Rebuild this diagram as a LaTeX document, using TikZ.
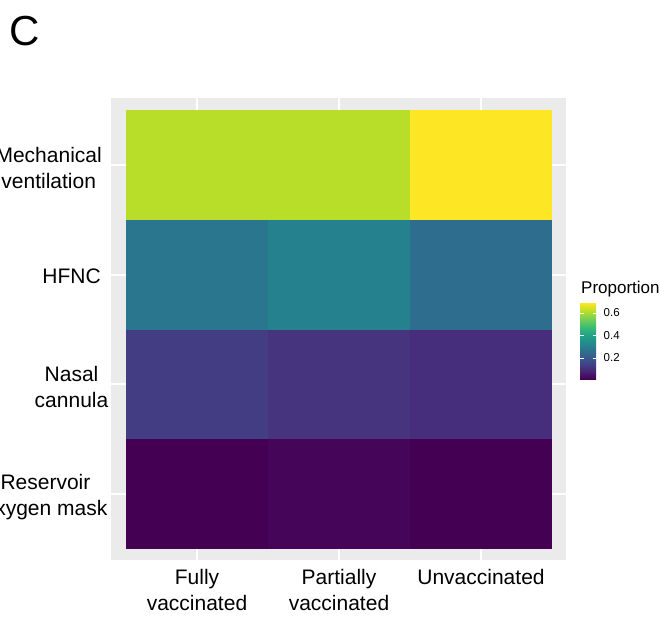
\documentclass[tikz,border=0pt]{standalone}
\usepackage{fontspec}
\setmainfont{Liberation Sans}

\definecolor{panelgrey}{HTML}{EBEBEB}
% tile colours
\definecolor{mvA}{HTML}{B8DE29}
\definecolor{mvC}{HTML}{FDE725}
\definecolor{hfA}{HTML}{2A768E}
\definecolor{hfB}{HTML}{26818E}
\definecolor{hfC}{HTML}{2E6D8E}
\definecolor{ncA}{HTML}{433D84}
\definecolor{ncB}{HTML}{46347F}
\definecolor{ncC}{HTML}{472E7C}
\definecolor{roA}{HTML}{440154}
\definecolor{roB}{HTML}{45065A}
% viridis stops for the colour bar
\definecolor{vir0}{HTML}{440154}
\definecolor{vir1}{HTML}{482475}
\definecolor{vir2}{HTML}{414487}
\definecolor{vir3}{HTML}{355F8D}
\definecolor{vir4}{HTML}{2A788E}
\definecolor{vir5}{HTML}{21918C}
\definecolor{vir6}{HTML}{22A884}
\definecolor{vir7}{HTML}{44BF70}
\definecolor{vir8}{HTML}{7AD151}
\definecolor{vir9}{HTML}{BDDF26}
\definecolor{vir10}{HTML}{FDE725}
\pgfdeclareverticalshading{viridisbar}{100bp}{color(0bp)=(vir0); color(25bp)=(vir0);
  color(30bp)=(vir1); color(35bp)=(vir2); color(40bp)=(vir3); color(45bp)=(vir4);
  color(50bp)=(vir5); color(55bp)=(vir6); color(60bp)=(vir7); color(65bp)=(vir8);
  color(70bp)=(vir9); color(75bp)=(vir10); color(100bp)=(vir10)}

\begin{document}
\begin{tikzpicture}[x=1pt, y=-1pt,
	axislabel/.style={font=\fontsize{21}{26.5}\selectfont, align=center, text=black, inner sep=0pt},
	ticklabel/.style={font=\fontsize{11.5}{13}\selectfont, anchor=west, inner sep=0pt},
	gridline/.style={white, line width=2.4pt}]
	\useasboundingbox (0,0) rectangle (660,616);

	\node[anchor=base west, font=\fontsize{42}{48}\selectfont, inner sep=0pt] (panelC) at (9,45) {C};

	% Panel background and grid
	\fill[panelgrey] (111,98) rectangle (566,560);
	\foreach \gx in {197,339,481}
		\draw[gridline] (\gx,98) -- (\gx,560);
	\foreach \gy in {165,275,384,494}
		\draw[gridline] (111,\gy) -- (566,\gy);

	% Tiles
	\foreach \col/\row/\tc in {0/0/mvA, 1/0/mvA, 2/0/mvC,
			0/1/hfA, 1/1/hfB, 2/1/hfC,
			0/2/ncA, 1/2/ncB, 2/2/ncC,
			0/3/roA, 1/3/roB, 2/3/roA}
		\fill[\tc] ({126+142*\col},{110+109.75*\row}) rectangle ({268+142*\col},{219.75+109.75*\row});

	\node[axislabel, anchor=east] (mech) at (102,168) {Mechanical\\ventilation};
	\node[axislabel, anchor=east] (hfnc) at (101,276) {HFNC};
	\node[axislabel, anchor=east] (nasal) at (108.5,387) {Nasal\\cannula};
	\node[axislabel, anchor=east] (reservoir) at (107.5,497) {Reservoir\\oxygen mask};

	\node[axislabel, anchor=north] (fully) at (197,569) {Fully\\vaccinated};
	\node[axislabel, anchor=north] (partially) at (339,569) {Partially\\vaccinated};
	\node[axislabel, anchor=north] (unvacc) at (481,569) {Unvaccinated};

	% Legend
	\node[anchor=base west, font=\fontsize{17}{20}\selectfont, inner sep=0pt] (legtitle) at (581,293) {Proportion};
	\shade[shading=viridisbar] (580,379) rectangle (596,303);
	\foreach \ty in {313,335.5,358} {
		\draw[white, line width=0.8pt] (580,\ty) -- (583.5,\ty);
		\draw[white, line width=0.8pt] (592.5,\ty) -- (596,\ty);
	}
	\node[ticklabel] (t06) at (603.5,313) {0.6};
	\node[ticklabel] (t04) at (603.5,335.5) {0.4};
	\node[ticklabel] (t02) at (603.5,358) {0.2};
\end{tikzpicture}
\end{document}
